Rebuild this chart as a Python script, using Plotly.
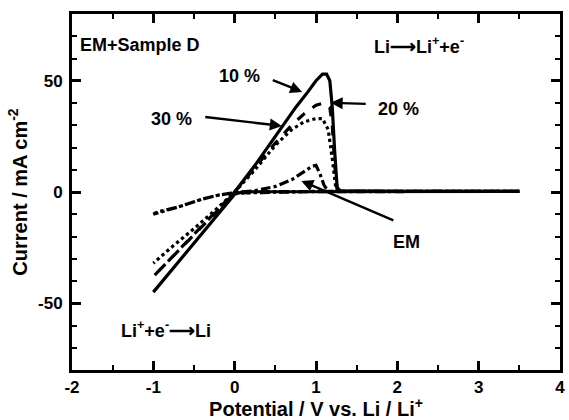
import plotly.graph_objects as go

# ---- data ----
x10 = [3.5, 2.0, 1.0, 0.5, 0.1, 0.0, -0.25, -0.5, -0.75, -1.0, -0.75, -0.5, -0.25, 0.0, 0.25, 0.5, 0.75, 0.9, 1.0, 1.08, 1.13, 1.17, 1.2, 1.23, 1.26, 1.3, 2.0, 3.5]
y10 = [0.3, 0.3, 0.3, 0.3, 0.1, -1.0, -12, -23, -34, -45, -34, -23, -12, 0, 12, 25, 38, 45, 50, 53, 53, 50, 38, 18, 2, 0.5, 0.3, 0.3]

x20 = [3.5, 1.0, 0.0, -0.25, -0.5, -0.75, -1.0, -0.75, -0.5, -0.25, 0.0, 0.25, 0.5, 0.7, 0.85, 1.0, 1.1, 1.17, 1.2, 1.23, 1.26, 1.3, 3.5]
y20 = [0.3, 0.3, -0.5, -10, -19.5, -29, -38, -29, -19.5, -10, 0, 11, 22, 30, 35, 39, 40, 38, 30, 12, 1, 0.3, 0.3]

x30 = [3.5, 1.0, 0.0, -0.25, -0.5, -0.75, -1.0, -0.75, -0.5, -0.25, 0.0, 0.25, 0.5, 0.7, 0.85, 1.0, 1.08, 1.15, 1.2, 1.24, 1.28, 3.5]
y30 = [0.3, 0.3, -0.5, -8.5, -16.5, -24, -32, -24, -16.5, -8.5, 0, 10, 21, 28, 31.5, 33, 33, 28, 15, 3, 0.3, 0.3]

xEM = [3.5, 1.0, 0.5, 0.25, 0.0, -0.2, -0.4, -0.7, -0.95, -1.0, -0.7, -0.4, -0.2, 0.0, 0.25, 0.5, 0.7, 0.85, 0.95, 1.0, 1.05, 1.1, 1.15, 2.0, 3.5]
yEM = [0.3, 0.3, 0.2, 0.1, -0.3, -1.4, -3.2, -6.8, -9.0, -10, -6.8, -3.2, -1.4, -0.3, 0.6, 2.5, 5.5, 9, 11.5, 12, 8, 3, 0.3, 0.3, 0.3]

series = [
    ("10 %", x10, y10, "solid"),
    ("20 %", x20, y20, "dash"),
    ("30 %", x30, y30, "dot"),
    ("EM", xEM, yEM, "dashdot"),
]

x_ticks = [-2, -1, 0, 1, 2, 3, 4]
y_ticks = [-50, 0, 50]

FONT = "Liberation Sans, Arial, sans-serif"

fig = go.Figure()
for name, xs, ys, dash in series:
    fig.add_trace(go.Scatter(x=xs, y=ys, mode="lines", name=name,
                             line=dict(color="black", width=3.2, dash=dash),
                             showlegend=False))

axis_common = dict(
    showgrid=False, zeroline=False, showline=True, linecolor="black", linewidth=3,
    mirror="ticks", ticks="inside", ticklen=9, tickwidth=3, tickcolor="black",
    tickfont=dict(family=FONT, size=17, color="black"),
)

fig.update_xaxes(range=[-2, 4], tickvals=x_ticks, ticktext=[f"<b>{v}</b>" for v in x_ticks],
                 minor=dict(ticks="inside", ticklen=5, tickwidth=2, dtick=0.5, tickcolor="black"),
                 title=dict(text="<b>Potential / V vs. Li / Li<sup>+</sup></b>", standoff=2,
                            font=dict(family=FONT, size=20, color="black")),
                 **axis_common)
fig.update_yaxes(range=[-80, 80], tickvals=y_ticks, ticktext=[f"<b>{v}</b>" for v in y_ticks],
                 minor=dict(ticks="inside", ticklen=5, tickwidth=2, dtick=10, tickcolor="black"),
                 ticklabelstandoff=3,
                 title=dict(text="<b>Current / mA cm<sup>-2</sup></b>", standoff=6,
                            font=dict(family=FONT, size=20, color="black")),
                 **axis_common)

tfont = dict(family=FONT, size=18, color="black")
ann = []
# texts
ann.append(dict(x=-1.93, y=66, text="<b>EM+Sample D</b>", xanchor="left", showarrow=False, font=tfont))
ann.append(dict(x=2.27, y=66, text="<b>Li⟶Li<sup>+</sup>+e<sup>-</sup></b>", showarrow=False, font=tfont))
ann.append(dict(x=-1.42, y=-62, text="<b>Li<sup>+</sup>+e<sup>-</sup>⟶Li</b>", xanchor="left", showarrow=False, font=tfont))
ann.append(dict(x=0.06, y=52, text="<b>10 %</b>", showarrow=False, font=tfont))
ann.append(dict(x=2.01, y=37.5, text="<b>20 %</b>", showarrow=False, font=tfont))
ann.append(dict(x=-0.78, y=33, text="<b>30 %</b>", showarrow=False, font=tfont))
ann.append(dict(x=2.11, y=-22.5, text="<b>EM</b>", showarrow=False, font=tfont))
# arrows
arrows = [
    (0.45, 50.5, 0.83, 45.0),
    (1.63, 39.6, 1.18, 40.1),
    (-0.38, 33.8, 0.58, 29.7),
    (1.97, -13.0, 0.82, 5.0),
]
for ax_, ay_, hx, hy in arrows:
    ann.append(dict(x=hx, y=hy, ax=ax_, ay=ay_, axref="x", ayref="y", xref="x", yref="y",
                    text="", showarrow=True, arrowhead=2, arrowsize=1, arrowwidth=2.4,
                    arrowcolor="black", standoff=0, startstandoff=0))

fig.update_layout(
    width=569, height=420,
    margin=dict(l=72, r=4, t=14, b=50),
    paper_bgcolor="white", plot_bgcolor="white",
    font=dict(family=FONT, color="black"),
    annotations=ann,
)

fig.write_html("out.html")
